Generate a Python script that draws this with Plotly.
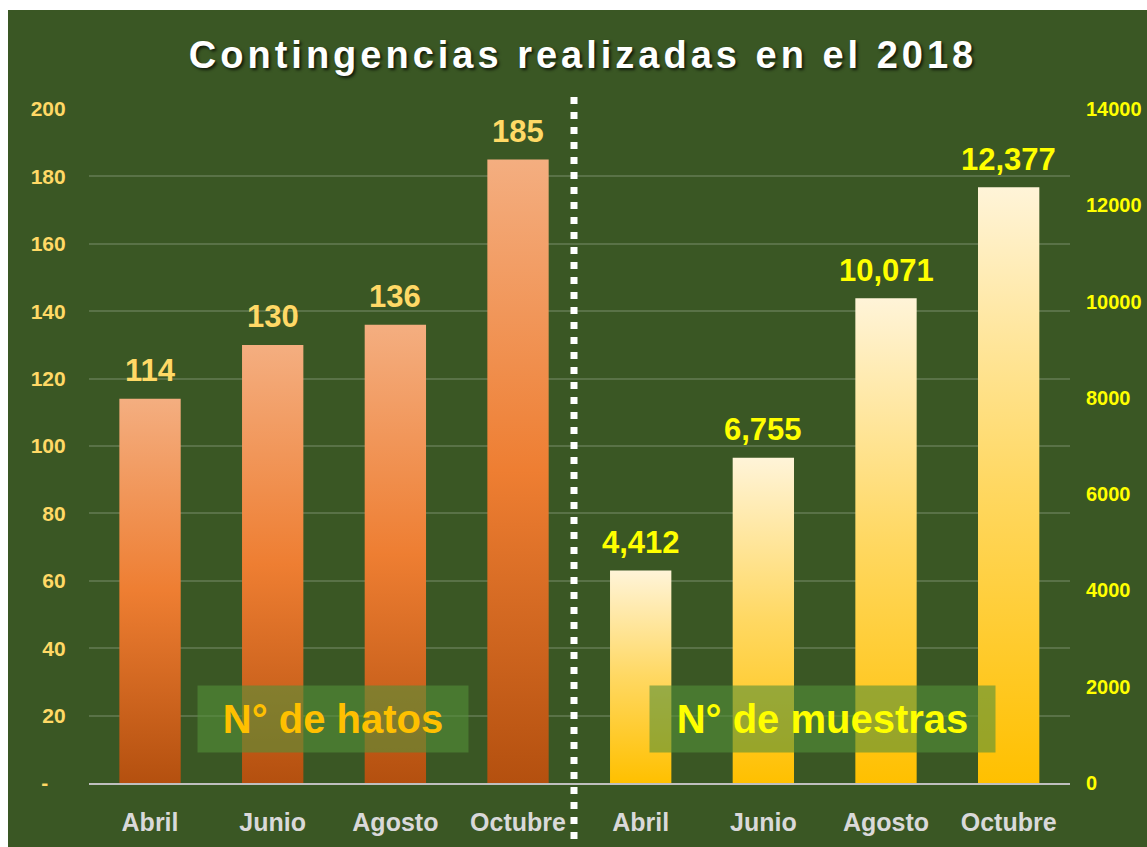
import plotly.graph_objects as go

# ---------------- data ----------------
months = ["Abril", "Junio", "Agosto", "Octubre"]
hatos = [114, 130, 136, 185]
muestras = [4412, 6755, 10071, 12377]
hatos_tickvals = [0, 20, 40, 60, 80, 100, 120, 140, 160, 180, 200]
hatos_ticktext = ["-\u00a0\u00a0\u00a0", "20", "40", "60", "80", "100", "120", "140", "160", "180", "200"]
muestras_tickvals = [0, 2000, 4000, 6000, 8000, 10000, 12000, 14000]
title_text = "Contingencias realizadas en el 2018"
label_hatos = "N° de hatos"
label_muestras = "N° de muestras"

# ---------------- styling ----------------
W, H = 1147, 847
FONT = "Liberation Sans, Arial, sans-serif"
BG = "#3A5724"
ORANGE_SCALE = [[0, "#B4500F"], [0.5, "#EE7E32"], [1, "#F4AE80"]]
GOLD_SCALE = [[0, "#FFC000"], [0.5, "#FFD862"], [1, "#FFF4D8"]]
BAR_HALF = 0.25


def px_x(p):
    return p / W


def px_y(p):
    return 1 - p / H


fig = go.Figure()

positions_h = list(range(len(months)))
positions_m = [len(months) + i for i in range(len(months))]

for pos, v, m in zip(positions_h, hatos, months):
    x0, x1 = pos - BAR_HALF, pos + BAR_HALF
    fig.add_trace(go.Scatter(
        x=[x0, x1, x1, x0, x0], y=[0, 0, v, v, 0],
        mode="lines", fill="toself",
        line=dict(width=0, color="rgba(0,0,0,0)"),
        fillgradient=dict(type="vertical", colorscale=ORANGE_SCALE),
        yaxis="y", showlegend=False, hoveron="fills",
        name=f"{m}: {v}",
    ))
    fig.add_annotation(x=pos, y=v, xref="x", yref="y", text=str(v),
                       showarrow=False, yshift=28,
                       font=dict(family=FONT, size=31, color="#FFD966", weight="bold"))

for pos, v, m in zip(positions_m, muestras, months):
    x0, x1 = pos - BAR_HALF, pos + BAR_HALF
    fig.add_trace(go.Scatter(
        x=[x0, x1, x1, x0, x0], y=[0, 0, v, v, 0],
        mode="lines", fill="toself",
        line=dict(width=0, color="rgba(0,0,0,0)"),
        fillgradient=dict(type="vertical", colorscale=GOLD_SCALE),
        yaxis="y2", showlegend=False, hoveron="fills",
        name=f"{m}: {v:,}",
    ))
    fig.add_annotation(x=pos, y=v, xref="x", yref="y2", text=f"{v:,}",
                       showarrow=False, yshift=28,
                       font=dict(family=FONT, size=31, color="#FFFF00", weight="bold"))

# series label boxes
fig.add_annotation(x=px_x(333), y=px_y(719), xref="paper", yref="paper",
                   text=label_hatos, showarrow=False, xanchor="center", yanchor="middle",
                   width=256, height=52, borderpad=7, bgcolor="rgba(83,143,57,0.6)",
                   font=dict(family=FONT, size=40, color="#FFC000", weight="bold"))
fig.add_annotation(x=px_x(822), y=px_y(719), xref="paper", yref="paper",
                   text=label_muestras, showarrow=False, xanchor="center", yanchor="middle",
                   width=331, height=52, borderpad=7, bgcolor="rgba(83,143,57,0.6)",
                   font=dict(family=FONT, size=40, color="#FFFF00", weight="bold"))

# white border (top / left) and dotted separator
fig.add_shape(type="rect", xref="paper", yref="paper", x0=0, x1=1, y0=px_y(10), y1=1,
              fillcolor="white", line=dict(width=0), layer="above")
fig.add_shape(type="rect", xref="paper", yref="paper", x0=0, x1=px_x(8), y0=0, y1=1,
              fillcolor="white", line=dict(width=0), layer="above")
fig.add_shape(type="line", xref="paper", yref="paper", x0=px_x(574), x1=px_x(574),
              y0=px_y(97), y1=0, line=dict(color="white", width=7, dash="7px,8px"),
              layer="above")

fig.update_layout(
    width=W, height=H, autosize=False,
    margin=dict(l=0, r=0, t=0, b=0, pad=0, autoexpand=False),
    paper_bgcolor=BG, plot_bgcolor=BG,
    showlegend=False,
    title=dict(
        text=f'<span style="letter-spacing:4px">{title_text}</span>',
        x=px_x(583), xanchor="center", y=px_y(55), yanchor="middle",
        font=dict(family=FONT, size=38, color="white", weight="bold",
                  shadow="2px 2px 3px rgba(0,0,0,0.7)"),
    ),
    xaxis=dict(
        domain=[px_x(88.7), px_x(1070)], range=[-0.5, 7.5],
        tickvals=positions_h + positions_m, ticktext=months + months,
        showgrid=False, zeroline=False, showline=True,
        linecolor="#BFBFBF", linewidth=2, ticks="", ticklabelstandoff=16,
        tickfont=dict(family=FONT, size=25, color="#D9D9D9", weight="bold"),
        fixedrange=True,
    ),
    yaxis=dict(
        domain=[1 - 783 / H, 1 - 109 / H], range=[0, 200],
        tickvals=hatos_tickvals, ticktext=hatos_ticktext,
        showgrid=True, gridcolor="rgba(255,255,255,0.16)", gridwidth=1.5,
        zeroline=False, ticks="", ticklabelstandoff=22,
        tickfont=dict(family=FONT, size=21, color="#FFD966", weight="bold"),
        fixedrange=True,
    ),
    yaxis2=dict(
        overlaying="y", side="right", anchor="x", range=[0, 14000],
        tickvals=muestras_tickvals, tickformat="d",
        showgrid=False, zeroline=False, ticks="", ticklabelstandoff=15,
        tickfont=dict(family=FONT, size=20, color="#FFFF00", weight="bold"),
        fixedrange=True,
    ),
)

fig.write_html(
    "out.html",
    config={"displayModeBar": False},
    post_script="document.body.style.margin='0';document.body.style.overflow='hidden';",
)
